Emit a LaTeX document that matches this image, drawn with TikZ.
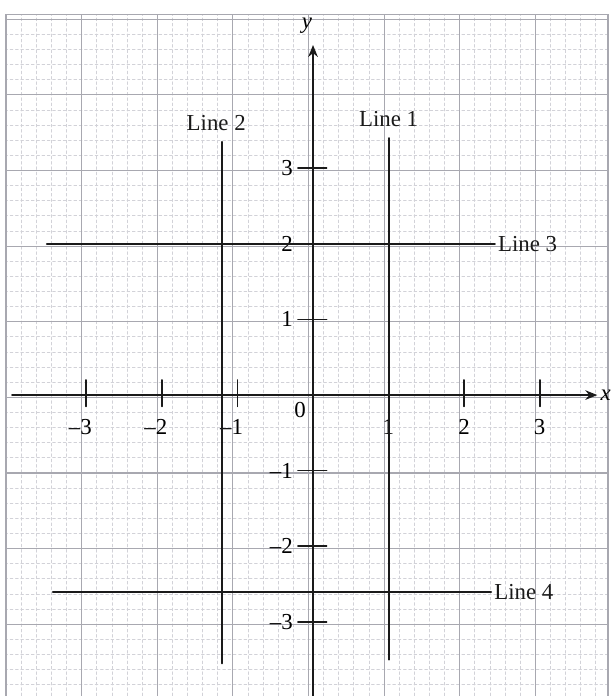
\documentclass[tikz,border=0pt]{standalone}
\usepackage{fontspec}
\setmainfont{Liberation Serif}
\usetikzlibrary{positioning, arrows.meta}
\definecolor{gridmajor}{HTML}{A8A8B0}
\definecolor{gridminor}{HTML}{D2D2D8}
\definecolor{inkblack}{HTML}{1A1A1A}
\tikzset{
	axisline/.style={->, inkblack, line width=0.75pt},
	graphline/.style={inkblack, line width=0.7pt},
	tickmark/.style={inkblack, line width=0.6pt},
	linelabel/.style={inner sep=1pt, text=inkblack}
}

\begin{document}
\begin{tikzpicture}[>={Stealth[length=4.5pt,width=3.6pt]}, line cap=round, font=\fontsize{8.6}{10}\selectfont]
	\useasboundingbox (-4.14,-3.98) rectangle (3.995,5.225);
	\fill[white] (-4.14,-3.98) rectangle (3.995,5.225);
	\begin{scope}
		\clip (-4.07,-4.1) rectangle (3.90,5.03);
		\begin{scope}[shift={(-0.06,-0.03)}]
			\draw[
				gridminor,
				line width=0.3pt,
				dash pattern=on 1pt off 1pt
			]
				(-5,-5) grid[step=0.2] (5,6);
			\draw[
				gridmajor,
				line width=0.45pt
			]
				(-5,-5) grid[step=1] (5,6);
		\end{scope}
	\end{scope}
	\draw[gridmajor, line width=0.5pt] (-4.07,-4.1) rectangle (3.90,5.03);
	\coordinate (origin) at (0,0);
	\coordinate (xstart) at (-3.98,0);
	\coordinate (xend) at (3.76,0);
	\coordinate (ystart) at (0,-3.98);
	\coordinate (yend) at (0,4.63);
	\draw[axisline] (xstart) -- (xend);
	\draw[axisline] (ystart) -- (yend);
	\node[right=0pt of xend, inner sep=1pt] (xlabel) {\textit{x}};
	\node (ylabel) at (-0.08,4.89) {\textit{y}};
	\foreach \k/\t in {-3/--3,-2/--2,-1/--1,1/1,2/2,3/3}{
		\draw[tickmark] (\k,-0.15) -- (\k,0.2);
		\draw[tickmark] (-0.2,\k) -- (0.18,\k);
		\node[anchor=base east, inner sep=0pt] (xtick\k) at (\k+0.08,-0.52) {\t};
		\node[anchor=east, inner sep=0pt] (ytick\k) at (-0.26,\k) {\t};
	}
	\node (zero) at (-0.17,-0.2) {0};
	\coordinate (loneA) at (1,3.4);
	\coordinate (loneB) at (1,-3.5);
	\coordinate (ltwoA) at (-1.2,3.35);
	\coordinate (ltwoB) at (-1.2,-3.55);
	\coordinate (lthreeA) at (-3.52,2);
	\coordinate (lthreeB) at (2.37,2);
	\coordinate (lfourA) at (-3.44,-2.6);
	\coordinate (lfourB) at (2.32,-2.6);
	\draw[graphline] (loneB) -- (loneA);
	\draw[graphline] (ltwoB) -- (ltwoA);
	\node[linelabel, above=3pt of loneA] (lone) {Line 1};
	\node[linelabel, above=3pt of ltwoA, xshift=-0.08cm] (ltwo) {Line 2};
	\node[linelabel, right=1pt of lthreeB] (lthree) {Line 3};
	\node[linelabel, right=1pt of lfourB] (lfour) {Line 4};
	\draw[graphline] (lthreeA) -- (lthree.west);
	\draw[graphline] (lfourA) -- (lfour.west);
\end{tikzpicture}
\end{document}
